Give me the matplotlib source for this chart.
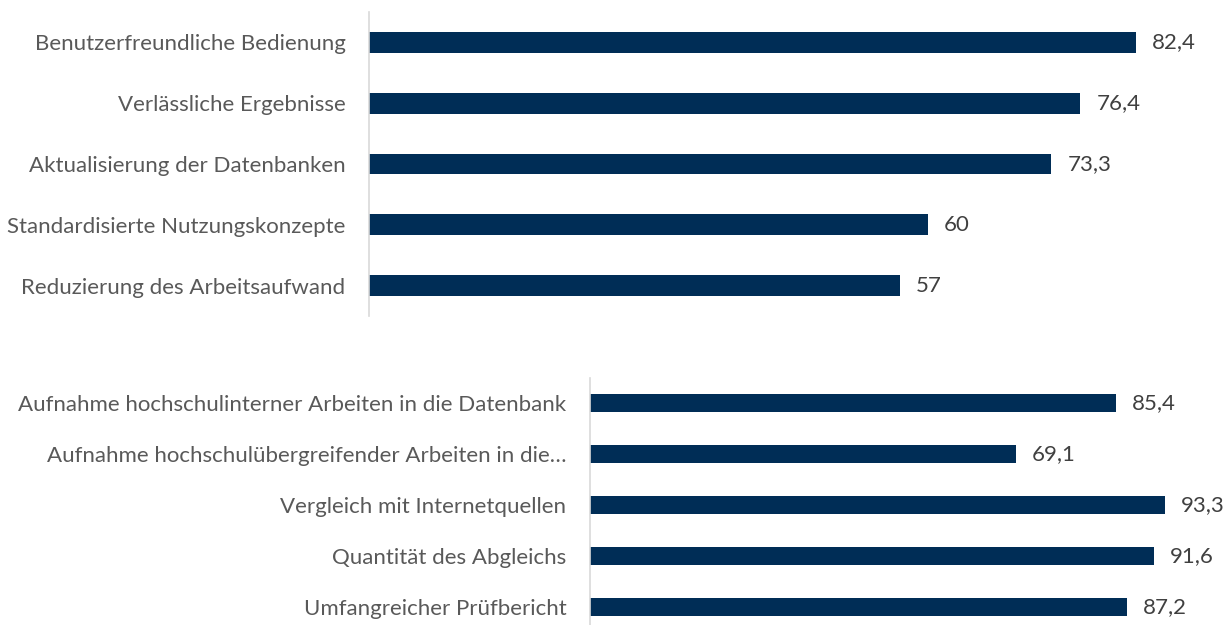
import matplotlib.pyplot as plt

# data
top_labels = ["Benutzerfreundliche Bedienung", "Verlässliche Ergebnisse",
              "Aktualisierung der Datenbanken", "Standardisierte Nutzungskonzepte",
              "Reduzierung des Arbeitsaufwand"]
top_values = [82.4, 76.4, 73.3, 60, 57]

bottom_labels = ["Aufnahme hochschulinterner Arbeiten in die Datenbank",
                 "Aufnahme hochschulübergreifender Arbeiten in die…",
                 "Vergleich mit Internetquellen", "Quantität des Abgleichs",
                 "Umfangreicher Prüfbericht"]
bottom_values = [85.4, 69.1, 93.3, 91.6, 87.2]

bar_color = "#002D56"
text_color = "#595959"
plt.rcParams['font.family'] = ['Lato', 'DejaVu Sans']

W, H = 1227, 625
fig = plt.figure(figsize=(W / 100, H / 100), dpi=100)


def draw(rect, labels, values, xmax, bar_h):
    ax = fig.add_axes(rect)
    y = list(range(len(values)))
    ax.barh(y, values, height=bar_h, color=bar_color)
    ax.set_xlim(0, xmax)
    ax.set_ylim(len(values) - 0.5, -0.5)
    ax.set_yticks(y)
    ax.set_yticklabels(labels, fontsize=16, color=text_color)
    ax.tick_params(axis='y', length=0, pad=17)
    ax.set_xticks([])
    for s in ["top", "right", "bottom"]:
        ax.spines[s].set_visible(False)
    ax.spines["left"].set_color("#D9D9D9")
    ax.spines["left"].set_linewidth(1.2)
    for yi, v in zip(y, values):
        ax.annotate(f"{v:g}".replace(".", ","), (v, yi), xytext=(11.5, 0),
                    textcoords="offset points", va="center", ha="left",
                    fontsize=16, color="#404040")
    return ax


# top panel: axis at x=369, 9.31 px per unit, rows 12..316 px
x0 = 369
draw([x0 / W, 1 - 316 / H, (W - x0) / W, (316 - 12) / H],
     top_labels, top_values, (W - x0) / 9.31, 0.34)

# bottom panel: axis at x=590, 6.16 px per unit, rows 377..632 px
x1 = 590
draw([x1 / W, 1 - 632.5 / H, (W - x1) / W, (632.5 - 377.5) / H],
     bottom_labels, bottom_values, (W - x1) / 6.16, 0.36)

fig.savefig("out.png", dpi=100)
